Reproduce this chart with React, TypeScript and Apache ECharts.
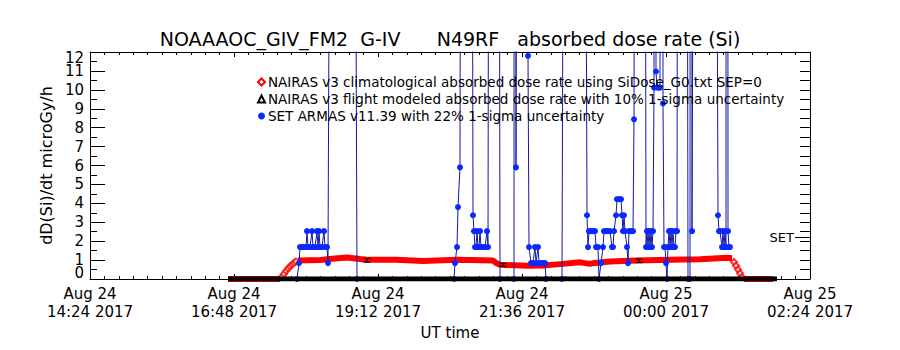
import React, { useEffect, useRef } from 'react';
import * as echarts from 'echarts';

const FONT = 'DejaVu Sans';
const TITLE = 'NOAAAOC_GIV_FM2  G-IV      N49RF   absorbed dose rate (Si)';
const NAME_CLIM = 'NAIRAS v3 climatological absorbed dose rate using SiDose_G0.txt SEP=0';
const NAME_FLIGHT = 'NAIRAS v3 flight modeled absorbed dose rate with 10% 1-sigma uncertainty';
const NAME_SET = 'SET ARMAS v11.39 with 22% 1-sigma uncertainty';

// x axis: minutes after Aug 24 2017 14:24 UT
const X_MIN = 0;
const X_MAX = 720;
const X_STEP = 144;
const xTickLabels = [
  'Aug 24\n14:24 2017',
  'Aug 24\n16:48 2017',
  'Aug 24\n19:12 2017',
  'Aug 24\n21:36 2017',
  'Aug 25\n00:00 2017',
  'Aug 25\n02:24 2017',
];
const Y_MIN = 0;
const Y_MAX = 12;
const yTickLabels = ['0', '1', '2', '3', '4', '5', '6', '7', '8', '9', '10', '11', '12'];
const SET_LEVEL = 2.22;

// NAIRAS climatological (red): flat/level parts [minute, value]
const redLevelA = [[138, 0], [190, 0]];
const redLevelB = [
  [208, 0.98], [230, 1.0], [245, 1.08], [257, 1.14], [270, 1.06], [277, 1.02], [306, 1.02],
  [333, 0.95], [367, 1.02], [403, 0.98], [406, 0.85], [410, 0.75], [437, 0.7], [455, 0.72],
  [473, 0.8], [490, 0.88], [500, 0.8], [505, 0.85], [520, 0.93], [547, 0.98], [580, 1.02],
  [610, 1.05], [637, 1.12], [642, 1.1],
];
const redLevelC = [[654, 0], [683, 0]];
// NAIRAS climatological (red): ascent / descent samples
const redRampMinutes = [192, 194, 196, 198, 200, 202, 204, 206, 644, 646, 648, 650, 652];
const redRampValues = [0.12, 0.27, 0.42, 0.55, 0.66, 0.76, 0.85, 0.93, 0.9, 0.7, 0.5, 0.3, 0.1];

// NAIRAS flight modeled (black)
const blackLine = [[138, 0], [687, 0]];
const flightMinutes = [277, 413, 549];
const flightValues = [0.99, 0.75, 0.96];
const FLIGHT_ERR = 0.1;

// SET ARMAS (blue); 200 = off-scale readings
const blueMinutes = [
  207, 209, 210, 212, 214, 216, 217, 218, 220, 222, 223, 225, 227, 228, 229, 230, 232, 234, 235, 237,
  238, 253, 267, 364, 365, 367, 368, 370, 376, 383, 384, 385, 386, 387, 388, 389, 390, 391, 393, 395,
  397, 398, 404, 410, 424, 425, 426, 432, 438, 439, 441, 443, 445, 446, 448, 449, 451, 453, 455, 456,
  472, 484, 497, 498, 499, 501, 503, 505, 506, 508, 509, 511, 513, 514, 516, 518, 520, 522, 523, 524,
  526, 527, 529, 531, 532, 533, 534, 535, 537, 538, 539, 541, 543, 544, 550, 556, 557, 558, 559, 560,
  561, 562, 563, 564, 565, 566, 567, 569, 570, 571, 573, 574, 575, 576, 577, 578, 579, 580, 581, 582,
  583, 584, 585, 586, 587, 592, 598, 600, 601, 602, 615, 628, 629, 630, 632, 633, 634, 635, 636, 637,
  638, 639, 640,
];
const blueValues = [
  0, 0.84, 1.69, 1.69, 1.69, 1.69, 2.53, 1.69, 1.69, 2.53, 1.69, 1.69, 2.53, 1.69, 2.53, 1.69, 1.69, 2.53, 1.69, 1.69,
  0.84, 200, 0, 0, 0.84, 1.69, 3.8, 5.9, 200, 3.37, 2.53, 1.69, 1.69, 2.53, 1.69, 1.69, 2.53, 1.69, 1.69, 1.69,
  2.53, 1.69, 200, 0, 0, 200, 5.9, 200, 11.8, 1.69, 0.84, 0.84, 1.69, 0.84, 1.69, 0.84, 0.84, 0.84, 0.84, 0,
  0, 200, 3.37, 1.69, 2.53, 2.53, 2.53, 2.53, 1.69, 1.69, 0, 0.84, 1.69, 2.53, 2.53, 2.53, 2.53, 1.69, 1.69, 2.53,
  3.37, 4.22, 4.22, 4.22, 3.37, 2.53, 3.37, 2.53, 1.69, 0.84, 2.53, 2.53, 2.53, 8.44, 200, 1.69, 2.53, 1.69, 2.53, 1.69,
  2.53, 1.69, 2.53, 10.12, 200, 10.97, 10.12, 10.12, 10.12, 200, 9.28, 1.69, 1.69, 0.84, 0, 1.69, 2.53, 1.69, 2.53, 1.69,
  2.53, 1.69, 1.69, 2.53, 2.53, 200, 0, 0, 200, 2.53, 200, 3.37, 2.53, 2.53, 1.69, 2.53, 1.69, 2.53, 1.69, 200,
  2.53, 1.69, 1.69,
];

const RED = '#ff0000';
const BLUE_DOT = '#0a28ff';
const BLUE_LINE = '#1418a8';

export default function App() {
  const ref = useRef<HTMLDivElement>(null);
  useEffect(() => {
    if (!ref.current) return;
    const chart = echarts.init(ref.current, undefined, { renderer: 'svg' });
    const axisColor = '#000';
    const yLabelStyle = { color: '#000', fontSize: 15, lineHeight: 12, margin: 6, fontFamily: FONT };
    const option: any = {
      animation: false,
      backgroundColor: '#ffffff',
      title: {
        text: TITLE,
        left: 'center',
        top: 24,
        textStyle: { fontSize: 19, fontWeight: 'normal', fontFamily: FONT, color: '#000' },
      },
      legend: {
        orient: 'vertical',
        left: 252,
        top: 70,
        itemGap: 3,
        itemWidth: 7,
        itemHeight: 7,
        textStyle: { fontSize: 13.5, color: '#000', fontFamily: FONT, padding: [0, 0, 0, -2] },
        data: [
          { name: NAME_CLIM, icon: 'emptyDiamond', itemStyle: { color: RED, borderColor: RED, borderWidth: 2 } },
          { name: NAME_FLIGHT, icon: 'emptyTriangle', itemStyle: { color: '#000', borderColor: '#000', borderWidth: 1.5 } },
          { name: NAME_SET, icon: 'circle', itemStyle: { color: BLUE_DOT } },
        ],
      },
      grid: { left: 90, right: 90, top: 52, bottom: 71 },
      xAxis: [
        {
          type: 'value',
          min: X_MIN,
          max: X_MAX,
          interval: X_STEP,
          position: 'bottom',
          axisLine: { onZero: false, lineStyle: { color: axisColor, width: 1 } },
          axisTick: { inside: true, length: 5, lineStyle: { color: axisColor } },
          minorTick: { show: true, splitNumber: 10, length: 3, lineStyle: { color: axisColor } },
          splitLine: { show: false },
          axisLabel: {
            formatter: (v: number) => xTickLabels[Math.round((v - X_MIN) / X_STEP)] || '',
            color: '#000',
            fontSize: 15,
            lineHeight: 18,
            margin: 6,
            fontFamily: FONT,
            showMinLabel: true,
            showMaxLabel: true,
          },
          name: 'UT time',
          nameLocation: 'middle',
          nameGap: 46,
          nameTextStyle: { fontSize: 15, color: '#000', fontFamily: FONT },
        },
        {
          type: 'value',
          min: X_MIN,
          max: X_MAX,
          interval: X_STEP,
          position: 'top',
          axisLine: { onZero: false, lineStyle: { color: axisColor, width: 1 } },
          axisTick: { inside: true, length: 5, lineStyle: { color: axisColor } },
          minorTick: { show: true, splitNumber: 10, length: 3, lineStyle: { color: axisColor } },
          splitLine: { show: false },
          axisLabel: { show: false },
        },
      ],
      yAxis: [
        {
          type: 'value',
          min: Y_MIN,
          max: Y_MAX,
          interval: 1,
          position: 'left',
          axisLine: { onZero: false, lineStyle: { color: axisColor, width: 1 } },
          axisTick: { inside: true, length: 15, lineStyle: { color: axisColor } },
          minorTick: { show: true, splitNumber: 2, length: 7, lineStyle: { color: axisColor } },
          splitLine: { show: false },
          axisLabel: {
            ...yLabelStyle,
            formatter: (v: number) => yTickLabels[Math.round(v)] || '',
            showMinLabel: false,
            showMaxLabel: false,
          },
          name: 'dD(Si)/dt microGy/h',
          nameLocation: 'middle',
          nameGap: 34,
          nameTextStyle: { fontSize: 16, color: '#000', fontFamily: FONT },
        },
        {
          type: 'value',
          min: Y_MIN,
          max: Y_MAX,
          interval: 0.5,
          position: 'right',
          axisLine: { onZero: false, lineStyle: { color: axisColor, width: 1 } },
          axisTick: { inside: true, length: 10, lineStyle: { color: axisColor } },
          splitLine: { show: false },
          axisLabel: { show: false },
        },
        {
          type: 'value',
          min: Y_MIN,
          max: Y_MAX,
          position: 'right',
          axisLine: { show: false, onZero: false },
          axisTick: { inside: true, length: 15, customValues: [SET_LEVEL], lineStyle: { color: axisColor } },
          splitLine: { show: false },
          axisLabel: {
            inside: true,
            customValues: [SET_LEVEL],
            formatter: () => 'SET',
            margin: 16,
            color: '#000',
            fontSize: 13,
            fontFamily: FONT,
          },
        },
        {
          // end labels (0 and 12) kept inside the frame
          type: 'value',
          min: Y_MIN,
          max: Y_MAX,
          interval: Y_MAX - Y_MIN,
          position: 'left',
          axisLine: { show: false, onZero: false },
          axisTick: { show: false },
          splitLine: { show: false },
          axisLabel: {
            ...yLabelStyle,
            formatter: (v: number) => yTickLabels[Math.round(v)] || '',
            showMinLabel: true,
            showMaxLabel: true,
            verticalAlignMinLabel: 'bottom',
            verticalAlignMaxLabel: 'top',
          },
        },
      ],
      series: [
        ...[redLevelA, redLevelB, redLevelC].map((seg) => ({
          type: 'line',
          name: NAME_CLIM,
          data: seg,
          symbol: 'none',
          lineStyle: { color: RED, width: 6 },
          itemStyle: { color: RED },
          z: 2,
        })),
        {
          type: 'scatter',
          name: NAME_CLIM,
          data: redRampMinutes.map((m, i) => [m, redRampValues[i]]),
          symbol: 'emptyDiamond',
          symbolSize: 6,
          itemStyle: { color: RED, borderColor: RED, borderWidth: 1.5 },
          z: 2,
        },
        {
          type: 'line',
          name: NAME_SET,
          data: blueMinutes.map((m, i) => [m, blueValues[i]]),
          symbol: 'circle',
          symbolSize: 6,
          showAllSymbol: true,
          itemStyle: { color: BLUE_DOT },
          lineStyle: { color: BLUE_LINE, width: 1 },
          clip: true,
          z: 3,
        },
        {
          type: 'line',
          name: NAME_FLIGHT,
          data: blackLine,
          symbol: 'none',
          lineStyle: { color: '#000', width: 5 },
          itemStyle: { color: '#000' },
          z: 4,
        },
        {
          type: 'custom',
          name: NAME_FLIGHT,
          data: flightMinutes.map((m, i) => [m, flightValues[i]]),
          itemStyle: { color: '#000' },
          z: 5,
          renderItem: (params: any, api: any) => {
            const x = api.value(0);
            const v = api.value(1);
            const top = api.coord([x, v * (1 + FLIGHT_ERR)]);
            const bot = api.coord([x, v * (1 - FLIGHT_ERR)]);
            const h = 3.5;
            const st = { stroke: '#000', lineWidth: 1 };
            return {
              type: 'group',
              children: [
                { type: 'line', shape: { x1: top[0], y1: top[1], x2: bot[0], y2: bot[1] }, style: st },
                { type: 'line', shape: { x1: top[0] - h, y1: top[1], x2: top[0] + h, y2: top[1] }, style: st },
                { type: 'line', shape: { x1: bot[0] - h, y1: bot[1], x2: bot[0] + h, y2: bot[1] }, style: st },
              ],
            };
          },
        },
      ],
    };
    chart.setOption(option);
    return () => chart.dispose();
  }, []);
  return (
    <div
      ref={ref}
      style={{ position: 'fixed', left: 0, top: 0, width: 900, height: 350, background: '#fff' }}
    />
  );
}
